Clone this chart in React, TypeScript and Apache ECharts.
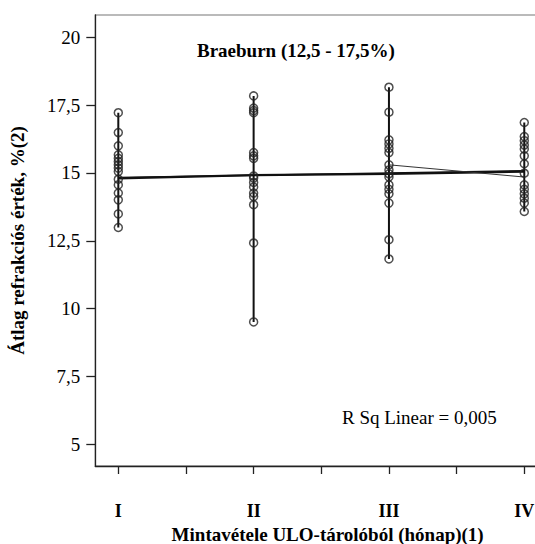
import React, { useEffect, useRef } from "react";
import * as echarts from "echarts";

const categories = ["I", "II", "III", "IV"];
const valuesI = [17.22, 16.49, 16.0, 15.67, 15.54, 15.42, 15.3, 15.18, 15.05, 14.77, 14.56, 14.26, 14.01, 13.49, 12.99];
const valuesII = [17.84, 17.39, 17.3, 17.22, 15.75, 15.63, 15.54, 14.89, 14.81, 14.65, 14.48, 14.26, 14.13, 13.83, 12.42, 9.51];
const valuesIII = [18.16, 17.24, 16.22, 16.07, 15.91, 15.75, 15.3, 15.11, 14.97, 14.85, 14.56, 14.4, 14.23, 13.89, 12.54, 11.83];
const valuesIV = [16.86, 16.34, 16.19, 16.03, 15.88, 15.63, 15.34, 14.99, 14.56, 14.4, 14.23, 14.07, 13.89, 13.58];
const connectLine = [14.8, 14.92, 14.97, 15.05];
const fitLine = [14.83, 15.08]; // at I and IV
const crossLine = [15.3, 14.85]; // III -> IV
const yTicks = [5, 7.5, 10, 12.5, 15, 17.5, 20];
const xTicks = [1, 1.5, 2, 2.5, 3, 3.5, 4];
const xLabelTicks = [1, 2, 3, 4];

const FONT = "Liberation Serif";

export default function App() {
  const ref = useRef<HTMLDivElement>(null);
  useEffect(() => {
    if (!ref.current) return;
    const chart = echarts.init(ref.current, undefined, { renderer: "svg" });
    const groups = [valuesI, valuesII, valuesIII, valuesIV];
    const scatterData = groups.flatMap((vals, i) => vals.map((v) => [i + 1, v]));
    const verticalSeries = groups.map((vals, i) => ({
      type: "line",
      data: [...vals].sort((a, b) => a - b).map((v) => [i + 1, v]),
      showSymbol: false,
      lineStyle: { color: "#111", width: 2 },
      silent: true,
      z: 2,
    }));
    chart.setOption({
      animation: false,
      backgroundColor: "#fff",
      textStyle: { fontFamily: FONT },
      title: [
        {
          text: "Braeburn (12,5 - 17,5%)",
          left: 197,
          top: 41,
          padding: 0,
          textStyle: { fontFamily: FONT, fontSize: 19, fontWeight: "bold", color: "#000" },
        },
        {
          text: "R Sq Linear = 0,005",
          left: 342,
          top: 408,
          padding: 0,
          textStyle: { fontFamily: FONT, fontSize: 19, fontWeight: "normal", color: "#000" },
        },
      ],
      grid: {
        left: 95.3,
        top: 15,
        width: 464.7,
        height: 451,
        outerBoundsMode: "none",
        containLabel: false,
        show: true,
        borderColor: "#777",
        borderWidth: 1.2,
        backgroundColor: "transparent",
      },
      xAxis: {
        type: "value",
        min: 0.83,
        max: 4.264,
        name: "Mintavétele ULO-tárolóból (hónap)(1)",
        nameLocation: "middle",
        nameGap: 56,
        nameTextStyle: { fontFamily: FONT, fontSize: 19, fontWeight: "bold", color: "#000" },
        axisLine: { show: true, onZero: false, lineStyle: { color: "#222", width: 1.3 } },
        axisTick: { show: true, length: 8, customValues: xTicks, lineStyle: { color: "#222", width: 1.3 } },
        axisLabel: {
          customValues: xLabelTicks,
          formatter: (v: number) => categories[Math.round(v) - 1] ?? "",
          margin: 36,
          fontFamily: FONT,
          fontSize: 18,
          fontWeight: "bold",
          color: "#000",
        },
        splitLine: { show: false },
      },
      yAxis: {
        type: "value",
        min: 4.2,
        max: 20.822,
        name: "Átlag refrakciós érték, %(2)",
        nameLocation: "middle",
        nameGap: 68,
        nameTextStyle: { fontFamily: FONT, fontSize: 19, fontWeight: "bold", color: "#000" },
        axisLine: { show: true, onZero: false, lineStyle: { color: "#222", width: 1.3 } },
        axisTick: { show: true, length: 9, customValues: yTicks, lineStyle: { color: "#222", width: 1.3 } },
        axisLabel: {
          customValues: yTicks,
          formatter: (v: number) => String(v).replace(".", ","),
          margin: 15,
          fontFamily: FONT,
          fontSize: 19,
          color: "#000",
        },
        splitLine: { show: false },
      },
      series: [
        ...verticalSeries,
        {
          type: "line",
          data: connectLine.map((v, i) => [i + 1, v]),
          showSymbol: false,
          lineStyle: { color: "#111", width: 2.2 },
          silent: true,
          z: 2,
        },
        {
          type: "line",
          data: [
            [1, fitLine[0]],
            [4, fitLine[1]],
          ],
          showSymbol: false,
          lineStyle: { color: "#111", width: 1.5 },
          silent: true,
          z: 2,
        },
        {
          type: "line",
          data: [
            [3, crossLine[0]],
            [4, crossLine[1]],
          ],
          showSymbol: false,
          lineStyle: { color: "#333", width: 1 },
          silent: true,
          z: 2,
        },
        {
          type: "scatter",
          data: scatterData,
          symbol: "circle",
          symbolSize: 8,
          itemStyle: { color: "rgba(0,0,0,0)", borderColor: "#222", borderWidth: 1.5 },
          z: 3,
        },
      ],
    });
    return () => chart.dispose();
  }, []);
  return (
    <div
      ref={ref}
      style={{ position: "fixed", left: 0, top: 0, width: 535, height: 544, background: "#fff" }}
    />
  );
}
